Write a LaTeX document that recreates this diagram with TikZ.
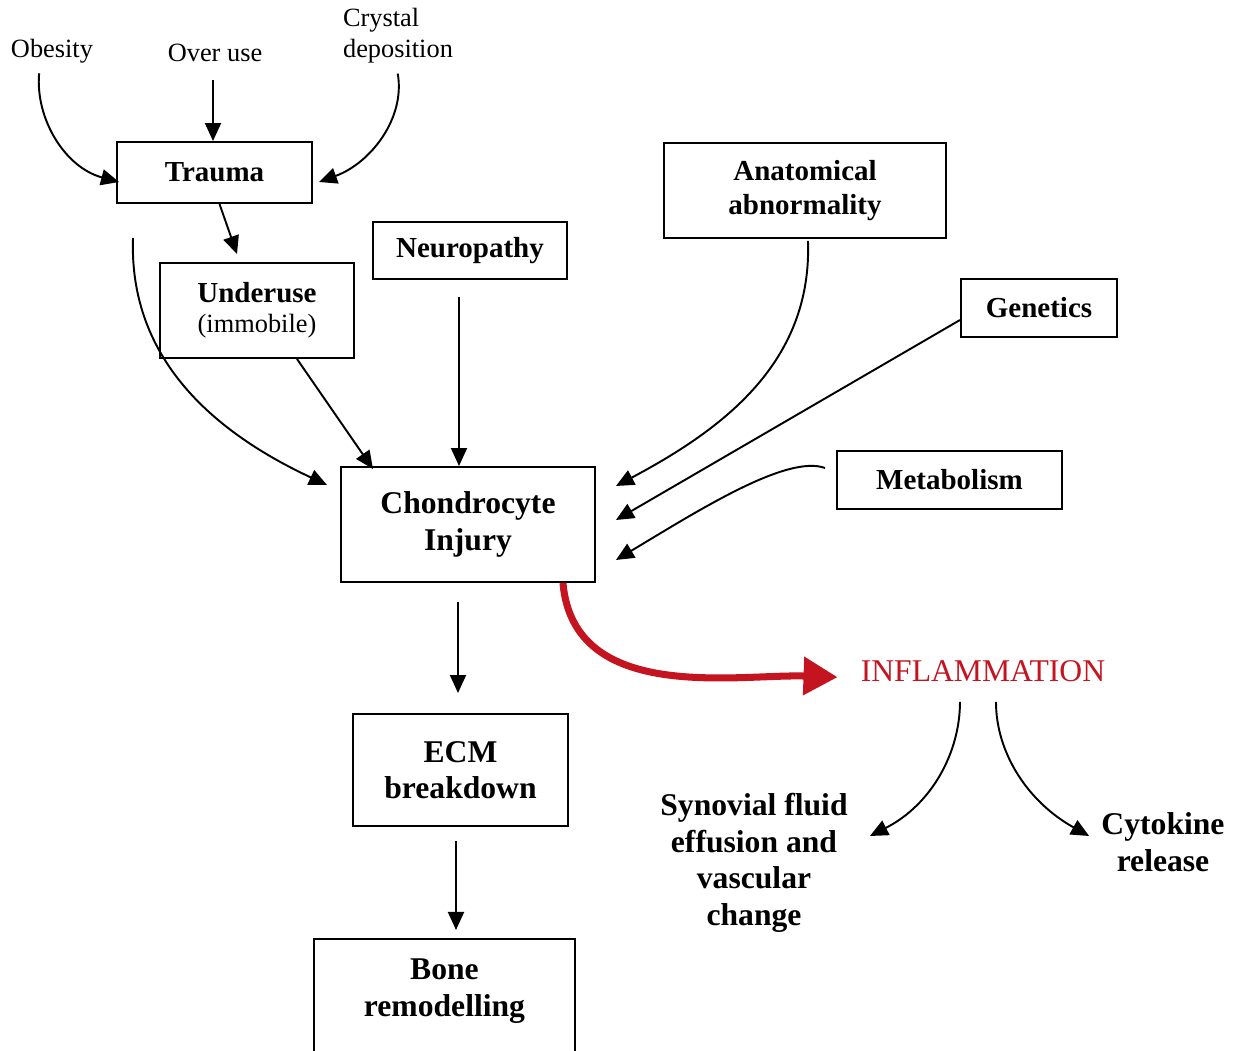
\documentclass[tikz,border=0pt]{standalone}
\usepackage{fontspec}
\setmainfont{Liberation Serif}
\usetikzlibrary{arrows.meta}
\definecolor{inflred}{RGB}{196,20,32}

\begin{document}
\begin{tikzpicture}[scale=0.2,
		box/.style={draw=black, line width=1.1pt, inner sep=0pt, align=center, font=\fontsize{16.5}{19.3}\selectfont\bfseries},
		bigbox/.style={box, font=\fontsize{18}{21}\selectfont\bfseries},
		cause/.style={inner sep=0pt, align=left, font=\fontsize{15}{17.6}\selectfont},
		outcome/.style={inner sep=0pt, align=center, font=\fontsize{18}{20.8}\selectfont\bfseries},
		link/.style={black, line width=1.1pt, -{Triangle[length=0.36cm,width=0.32cm]}},
		redlink/.style={inflred, line width=4pt, -{Triangle[length=0.68cm,width=0.74cm]}}]
		\useasboundingbox (0,0) rectangle (123.8,-105.1);
		\node [cause] (obesity) at (5.2,-5.1) {Obesity};
		\node [cause] (overuse) at (21.5,-5.3) {Over use};
		\node [cause] (crystal) at (39.8,-3.6) {Crystal\\deposition};
		\node [box, minimum width=3.9cm, minimum height=1.22cm] (trauma) at (21.45,-17.25) {Trauma};
		\node [box, minimum width=3.88cm, minimum height=1.9cm] (underuse) at (25.7,-31.05) {Underuse\\[-2pt]\mdseries\fontsize{15}{17}\selectfont (immobile)};
		\node [box, minimum width=3.88cm, minimum height=1.14cm] (neuro) at (47,-25.05) {Neuropathy};
		\node [box, minimum width=5.64cm, minimum height=1.9cm] (anat) at (80.5,-19.05) {Anatomical\\abnormality};
		\node [box, minimum width=3.12cm, minimum height=1.16cm] (genetics) at (103.9,-30.8) {Genetics};
		\node [box, minimum width=4.5cm, minimum height=1.16cm] (metab) at (94.95,-48) {Metabolism};
		\node [bigbox, minimum width=5.08cm, minimum height=2.3cm] (chondro) at (46.8,-52.45) {Chondrocyte\\Injury};
		\node [bigbox, minimum width=4.3cm, minimum height=2.24cm, font=\fontsize{18}{20.4}\selectfont\bfseries] (ecm) at (46.05,-77) {ECM\\breakdown};
		\node [bigbox, minimum width=5.22cm, anchor=north, inner ysep=0.4cm, text depth=2cm] (bone) at (44.45,-93.8) {Bone\\remodelling};
		\node [inner sep=0pt, text=inflred, font=\fontsize{18}{21}\selectfont] (inflam) at (98.3,-67.1) {INFLAMMATION};
		\node [outcome] (synovial) at (75.4,-86.3) {Synovial fluid\\effusion and\\vascular\\change};
		\node [outcome] (cytokine) at (116.3,-84.2) {Cytokine\\release};
		\coordinate (loose) at (13.3,-23.8);
		\draw [link, shorten <=0.2cm] ([xshift=-1.2cm]obesity.south) to [out=-95, in=165] ([xshift=0.3cm, yshift=-0.95cm]trauma.west);
		\draw [link, shorten <=0.36cm] ([xshift=-0.2cm]overuse.south) -- ([xshift=-0.2cm]overuse.south |- trauma.north);
		\draw [link, shorten <=0.2cm] ([xshift=-0.2cm]crystal.south) to [out=-80, in=20] ([xshift=0.6cm, yshift=-0.95cm]trauma.east);
		\draw [link] ([xshift=0.5cm]trauma.south) -- ([xshift=-2cm, yshift=0.8cm]underuse.north);
		\draw [link] (loose) to [out=-92, in=155] ([xshift=-1.3cm, yshift=3.95cm]chondro.west);
		\draw [link] ([xshift=4cm]underuse.south) -- ([xshift=-9.5cm, yshift=-0.3cm]chondro.north);
		\draw [link, shorten <=0.34cm] ([xshift=-1.1cm]neuro.south) -- ([xshift=-1.1cm]neuro.south |- chondro.north);
		\draw [link] ([xshift=0.3cm, yshift=-0.2cm]anat.south) to [out=-88, in=28] ([xshift=2cm, yshift=3.85cm]chondro.east);
		\draw [link] ([yshift=-1.2cm]genetics.west) -- ([xshift=2cm, yshift=0.45cm]chondro.east);
		\draw [link] ([xshift=-1.1cm, yshift=1.2cm]metab.west) to [out=160, in=31, out looseness=0.45, in looseness=1.1] ([xshift=2cm, yshift=-3.55cm]chondro.east);
		\draw [link, shorten <=0.38cm, shorten >=0.4cm] ([xshift=-1cm]chondro.south) -- ([xshift=-1cm]chondro.south |- ecm.north);
		\draw [link, shorten <=0.28cm, shorten >=0.16cm] ([xshift=-0.45cm]ecm.south) -- ([xshift=-0.45cm]ecm.south |- bone.north);
		\draw [redlink, shorten >=0.46cm] ([xshift=-3.3cm]chondro.south east) to [out=-85, in=178] ([yshift=-0.7cm]inflam.west);
		\draw [link, shorten <=0.4cm] ([xshift=-2.3cm]inflam.south) to [out=-90, in=27] ([xshift=2.2cm, yshift=2.7cm]synovial.east);
		\draw [link, shorten <=0.4cm] ([xshift=1.3cm]inflam.south) to [out=-90, in=151] ([xshift=-1.2cm, yshift=0.6cm]cytokine.west);
	\end{tikzpicture}
\end{document}
